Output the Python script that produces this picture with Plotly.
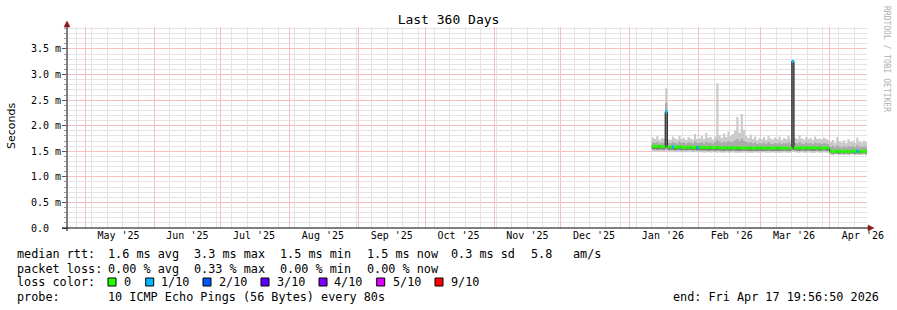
import plotly.graph_objects as go
import pandas as pd

# ---------------- data ----------------
START = "2025-04-22 19:56:50"
END = "2026-04-17 19:56:50"

# daily samples, 2026-01-11 .. 2026-04-17 (97 days)
dates = list(pd.date_range("2026-01-11", "2026-04-17", freq="D"))

median_ms = [
    # Jan 11-31
    1.60, 1.59, 1.59, 1.60, 1.59, 1.59, 2.27, 1.59, 1.58, 1.59, 1.58, 1.58, 1.59, 1.58, 1.58, 1.57, 1.58, 1.58, 1.57, 1.58, 1.58,
    # Feb 1-28
    1.58, 1.57, 1.58, 1.57, 1.57, 1.58, 1.57, 1.57, 1.58, 1.57, 1.56, 1.57, 1.57, 1.56, 1.57, 1.57, 1.56, 1.57, 1.57, 1.56, 1.57,
    1.56, 1.56, 1.57, 1.56, 1.56, 1.57, 1.56,
    # Mar 1-31
    1.57, 1.56, 1.56, 1.57, 1.56, 1.56, 1.56, 1.57, 1.56, 1.56, 1.57, 1.56, 1.56, 1.56, 3.26, 1.57, 1.56, 1.57, 1.57, 1.56, 1.57,
    1.57, 1.56, 1.57, 1.57, 1.56, 1.57, 1.56, 1.56, 1.57, 1.56,
    # Apr 1-17
    1.50, 1.49, 1.50, 1.51, 1.50, 1.49, 1.50, 1.50, 1.49, 1.50, 1.51, 1.50, 1.50, 1.49, 1.50, 1.50, 1.50,
]
min_ms = [
    1.50, 1.49, 1.49, 1.50, 1.49, 1.49, 1.51, 1.49, 1.48, 1.49, 1.48, 1.49, 1.48, 1.48, 1.49, 1.48, 1.48, 1.49, 1.48, 1.48, 1.48,
    1.48, 1.48, 1.47, 1.48, 1.48, 1.47, 1.48, 1.48, 1.47, 1.48, 1.47, 1.47, 1.48, 1.47, 1.47, 1.48, 1.47, 1.47, 1.47, 1.47, 1.48,
    1.47, 1.47, 1.47, 1.47, 1.48, 1.47, 1.47,
    1.47, 1.48, 1.47, 1.47, 1.47, 1.48, 1.47, 1.47, 1.47, 1.47, 1.48, 1.47, 1.47, 1.47, 1.49, 1.48, 1.47, 1.47, 1.48, 1.47, 1.47,
    1.48, 1.47, 1.47, 1.47, 1.48, 1.47, 1.47, 1.48, 1.47, 1.47,
    1.43, 1.42, 1.43, 1.43, 1.42, 1.43, 1.42, 1.43, 1.42, 1.43, 1.43, 1.42, 1.43, 1.42, 1.43, 1.43, 1.42,
]
max_ms = [
    1.77, 1.74, 1.80, 1.72, 1.76, 1.75, 2.73, 1.74, 1.72, 1.79, 1.75, 1.73, 1.81, 1.74, 1.76, 1.72, 1.78, 1.75, 1.73, 1.84, 1.74,
    1.75, 1.80, 1.74, 1.86, 1.76, 1.78, 1.73, 1.79, 2.83, 1.82, 1.76, 1.85, 1.78, 1.88, 1.80, 1.84, 1.90, 2.17, 1.86, 2.23, 1.92,
    1.80, 1.76, 1.83, 1.74, 1.79, 1.72, 1.76,
    1.74, 1.78, 1.72, 1.81, 1.75, 1.73, 1.77, 1.74, 1.79, 1.72, 1.76, 1.74, 1.80, 1.73, 3.28, 1.76, 1.74, 1.82, 1.75, 1.73, 1.78,
    1.74, 1.76, 1.72, 1.79, 1.74, 1.75, 1.73, 1.77, 1.74, 1.72,
    1.68, 1.72, 1.66, 1.78, 1.69, 1.67, 1.71, 1.66, 1.74, 1.68, 1.70, 1.66, 1.77, 1.69, 1.67, 1.71, 1.68,
]
q_lo_ms = [
    1.54, 1.54, 1.53, 1.54, 1.54, 1.53, 1.56, 1.53, 1.53, 1.53, 1.52, 1.53, 1.53, 1.52, 1.53, 1.52, 1.53, 1.53, 1.52, 1.53, 1.52,
    1.52, 1.52, 1.52, 1.52, 1.51, 1.52, 1.52, 1.51, 1.52, 1.52, 1.51, 1.51, 1.52, 1.51, 1.51, 1.52, 1.51, 1.51, 1.51, 1.51, 1.52,
    1.51, 1.51, 1.51, 1.51, 1.51, 1.51, 1.51,
    1.51, 1.51, 1.51, 1.52, 1.51, 1.51, 1.51, 1.51, 1.51, 1.51, 1.52, 1.51, 1.51, 1.51, 1.53, 1.52, 1.51, 1.51, 1.52, 1.51, 1.51,
    1.52, 1.51, 1.51, 1.51, 1.52, 1.51, 1.51, 1.52, 1.51, 1.51,
    1.46, 1.45, 1.46, 1.46, 1.45, 1.46, 1.45, 1.46, 1.45, 1.46, 1.46, 1.45, 1.46, 1.45, 1.46, 1.46, 1.45,
]
q_hi_ms = [
    1.67, 1.66, 1.68, 1.65, 1.67, 1.66, 2.45, 1.66, 1.65, 1.68, 1.66, 1.65, 1.69, 1.66, 1.67, 1.65, 1.68, 1.66, 1.65, 1.69, 1.66,
    1.66, 1.68, 1.65, 1.69, 1.66, 1.67, 1.65, 1.68, 1.72, 1.69, 1.66, 1.69, 1.67, 1.70, 1.68, 1.69, 1.71, 1.74, 1.70, 1.75, 1.70,
    1.68, 1.66, 1.68, 1.65, 1.67, 1.64, 1.66,
    1.65, 1.67, 1.64, 1.68, 1.65, 1.64, 1.66, 1.65, 1.67, 1.64, 1.66, 1.65, 1.67, 1.64, 2.60, 1.66, 1.65, 1.68, 1.65, 1.64, 1.67,
    1.65, 1.66, 1.64, 1.67, 1.65, 1.66, 1.64, 1.66, 1.65, 1.64,
    1.59, 1.61, 1.58, 1.62, 1.59, 1.58, 1.60, 1.58, 1.61, 1.59, 1.60, 1.58, 1.62, 1.59, 1.58, 1.60, 1.59,
]
# lost pings out of 10 per sample
loss = [0] * 97
for i in (6, 9, 20, 63, 92):
    loss[i] = 1

y_tick_vals = [0.0, 0.5, 1.0, 1.5, 2.0, 2.5, 3.0, 3.5]
y_tick_text = ["0.0\u00a0\u00a0", "0.5 m", "1.0 m", "1.5 m", "2.0 m", "2.5 m", "3.0 m", "3.5 m"]

loss_labels = ["0", "1/10", "2/10", "3/10", "4/10", "5/10", "9/10"]
loss_colors = ["#26ff00", "#00b8ff", "#0059ff", "#5e00ff", "#7e00ff", "#dd00ff", "#ff0000"]
loss_levels = [0, 1, 2, 3, 4, 5, 9]

row_rtt = ["median rtt:", "1.6 ms avg", "3.3 ms max", "1.5 ms min", "1.5 ms now", "0.3 ms sd", "5.8", "am/s"]
row_loss = ["packet loss:", "0.00 % avg", "0.33 % max", "0.00 % min", "0.00 % now"]
row_probe = ["probe:", "10 ICMP Echo Pings (56 Bytes) every 80s"]
end_text = "end: Fri Apr 17 19:56:50 2026"
title_text = "Last 360 Days"

# ---------------- layout helpers ----------------
W, H = 897, 310
L, R, T, B = 67, 867, 27, 228
PW, PH = R - L, B - T


def px(x):
    return (x - L) / PW


def py(y):
    return (B - y) / PH


MONO = "DejaVu Sans Mono"
xs = dates + [pd.Timestamp(END)]


def ext(v):
    return list(v) + [v[-1]]


fig = go.Figure()


def band(lo, hi, color):
    fig.add_trace(go.Scatter(x=xs, y=ext(lo), mode="lines", line=dict(width=0, shape="hv"),
                             hoverinfo="skip", showlegend=False))
    fig.add_trace(go.Scatter(x=xs, y=ext(hi), mode="lines", line=dict(width=0, shape="hv"),
                             fill="tonexty", fillcolor=color, hoverinfo="skip", showlegend=False))


band(min_ms, max_ms, "#cbcbcb")
band(q_lo_ms, q_hi_ms, "#aaaaaa")
band(q_lo_ms, median_ms, "#7a7a7a")

# median line
fig.add_trace(go.Scatter(x=xs, y=ext(median_ms), mode="lines",
                         line=dict(width=1, color="#202020", shape="hv"),
                         hoverinfo="skip", showlegend=False))

# loss-coloured median segments
for lvl, col in zip(loss_levels, loss_colors):
    sx, sy = [], []
    for i, v in enumerate(median_ms):
        if loss[i] == lvl:
            sx += [xs[i], xs[i + 1], None]
            sy += [v, v, None]
    if sx:
        fig.add_trace(go.Scatter(x=sx, y=sy, mode="lines", line=dict(width=3, color=col),
                                 hoverinfo="skip", showlegend=False))

month_starts = pd.date_range("2025-05-01", "2026-04-01", freq="MS")
label_pos = [m + pd.Timedelta(days=15) for m in month_starts]
label_txt = [m.strftime("%b '%y") for m in month_starts]
WEEK0 = "2025-04-27"          # first Sunday in range
WEEK_MS = 7 * 24 * 3600 * 1000

# invisible traces so the overlay axes (labels, month grid) are drawn
for ax in ("x2", "x3"):
    fig.add_trace(go.Scatter(x=[START, END], y=[None, None], xaxis=ax, yaxis="y",
                             mode="lines", hoverinfo="skip", showlegend=False))

GRID = "#e4e4e4"
MGRID = "#f6c0c0"

shapes = []
AX = "#000000"
ARROW = "#8b1a1a"
# axis lines
shapes.append(dict(type="line", xref="paper", yref="paper", x0=px(62), x1=px(869), y0=0, y1=0,
                   line=dict(color=AX, width=1)))
shapes.append(dict(type="line", xref="paper", yref="paper", x0=0, x1=0, y0=py(231), y1=py(26),
                   line=dict(color=AX, width=1)))
# arrows
shapes.append(dict(type="path", xref="paper", yref="paper",
                   path=f"M {px(868)} {py(225)} L {px(874)} {py(228)} L {px(868)} {py(231)} Z",
                   fillcolor=ARROW, line=dict(color=ARROW, width=0.5)))
shapes.append(dict(type="path", xref="paper", yref="paper",
                   path=f"M {px(64)} {py(27)} L {px(67)} {py(21)} L {px(70)} {py(27)} Z",
                   fillcolor=ARROW, line=dict(color=ARROW, width=0.5)))

annotations = []


def text(s, x, y, size=11.8, anchor="left", color="#000000", family=MONO, angle=0):
    annotations.append(dict(text=s, x=px(x), y=py(y), xref="paper", yref="paper",
                            xanchor=anchor, yanchor="middle", showarrow=False,
                            textangle=angle, borderpad=0,
                            font=dict(family=family, size=size, color=color)))


rtt_x = [16, 107, 193, 279, 366, 450, 530, 572]
for s, x in zip(row_rtt, rtt_x):
    text(s, x, 254)
for s, x in zip(row_loss, rtt_x):
    text(s, x, 268.5)
text("loss color:", 16, 282)
box_x = [108, 145.7, 203, 261, 319, 376.7, 435]
lab_x = [123, 160, 218, 276, 333, 391.7, 450]
for s, c, bx, lx in zip(loss_labels, loss_colors, box_x, lab_x):
    shapes.append(dict(type="rect", xref="paper", yref="paper", x0=px(bx), x1=px(bx + 8),
                       y0=py(286), y1=py(278), fillcolor=c, line=dict(color="#000000", width=1)))
    text(s, lx, 282)
for s, x in zip(row_probe, [16, 107]):
    text(s, x, 296.5)
text(end_text, 880, 296.5, anchor="right")

text("Seconds", 11, 126, size=11, family="DejaVu Sans", angle=-90, anchor="center")
text("RRDTOOL / TOBI OETIKER", 887, 59, size=8, color="#b0b0b0", angle=90, anchor="center")

fig.update_layout(
    width=W, height=H,
    margin=dict(l=L, r=W - R, t=T, b=H - B),
    paper_bgcolor="#ffffff", plot_bgcolor="#ffffff",
    title=dict(text=title_text, x=0.5, xref="container", y=1 - 19 / H, yref="container",
               xanchor="center", yanchor="middle", font=dict(family=MONO, size=13, color="#000000")),
    # weekly grid
    xaxis=dict(type="date", range=[START, END], showgrid=True, gridcolor=GRID, gridwidth=1,
               zeroline=False, showline=False, showticklabels=False,
               tickmode="linear", tick0=WEEK0, dtick=WEEK_MS, ticks=""),
    # month labels, centred in each month
    xaxis2=dict(type="date", range=[START, END], overlaying="x", anchor="y", side="bottom",
                showgrid=False, zeroline=False, showline=False,
                tickmode="array", tickvals=label_pos, ticktext=label_txt, ticks="",
                tickfont=dict(family=MONO, size=10, color="#000000")),
    # month-start major grid
    xaxis3=dict(type="date", range=[START, END], overlaying="x", anchor="y", side="bottom",
                showgrid=True, gridcolor=MGRID, gridwidth=1, zeroline=False, showline=False,
                showticklabels=False, tickmode="array", tickvals=list(month_starts), ticks=""),
    yaxis=dict(range=[0, 3.93], showgrid=True, gridcolor=MGRID,
               zeroline=False, showline=False, tickmode="array", tickvals=y_tick_vals, ticktext=y_tick_text,
               ticks="outside", ticklen=4, tickcolor="#555555", ticklabelstandoff=-1,
               tickfont=dict(family=MONO, size=10, color="#000000"),
               minor=dict(dtick=0.1, showgrid=True, gridcolor=GRID,
                          ticks="outside", ticklen=2, tickcolor="#999999")),
    shapes=shapes,
    annotations=annotations,
    showlegend=False,
)

fig.write_html("out.html")
